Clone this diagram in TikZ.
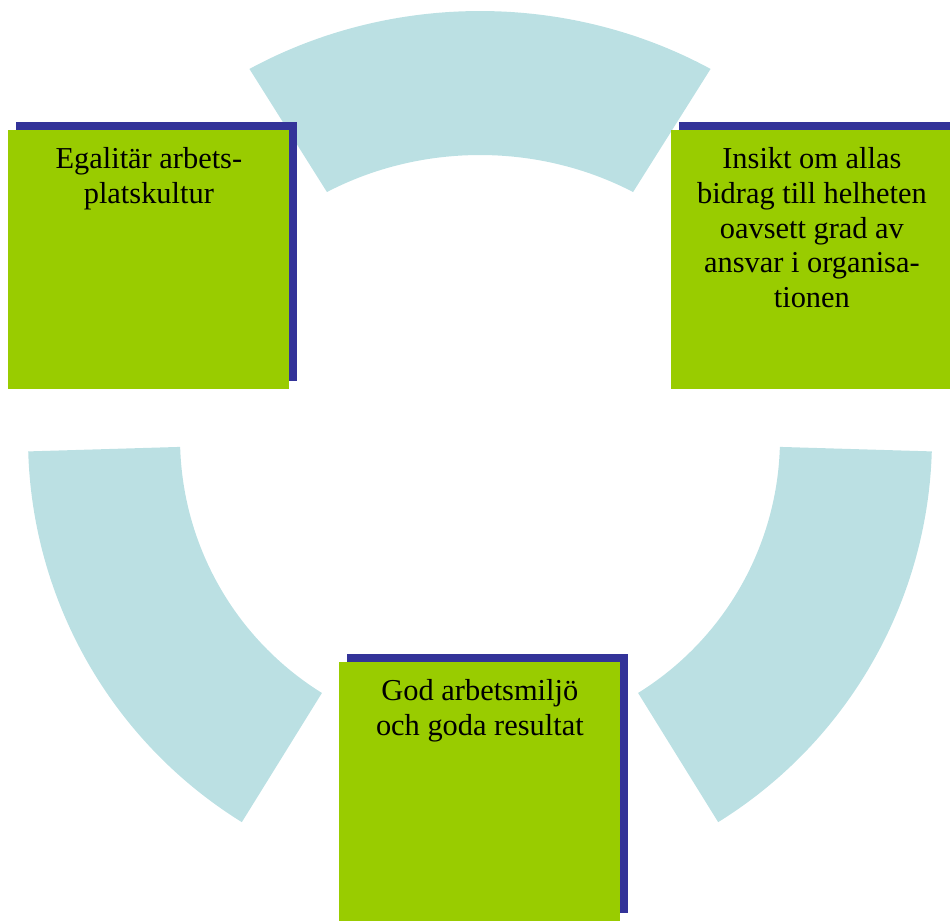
\documentclass[tikz,border=0pt]{standalone}
\usepackage{fontspec}
\setmainfont{Liberation Serif}
\usetikzlibrary{positioning,shadows}
\definecolor{ringblue}{HTML}{BBE0E3}
\definecolor{boxgreen}{HTML}{99CC00}
\definecolor{shadeblue}{HTML}{333399}

\begin{document}
\begin{tikzpicture}[
    box/.style={rectangle, fill=boxgreen, inner sep=0pt, anchor=north west,
                minimum width=5.62cm, minimum height=5.18cm,
                general shadow={fill=shadeblue, shadow xshift=0.16cm, shadow yshift=0.16cm}},
    txt/.style={align=center, inner sep=0pt, font=\fontsize{17.3}{19.8}\selectfont},
    seg/.style={fill=ringblue}
]
\path[use as bounding box, clip] (0,0) rectangle (19,-18.44);
\coordinate (c) at (9.6,-8.76);
\coordinate (ct) at (9.6,-8.7);

\fill[seg] ([shift={(ct)}]59.7:9.14 and 8.48) arc[start angle=59.7, end angle=120.3, x radius=9.14, y radius=8.48]
    -- ([shift={(ct)}]119.8:6.16 and 5.6) arc[start angle=119.8, end angle=60.2, x radius=6.16, y radius=5.6] -- cycle;
\fill[seg] ([shift={(c)}]181.7:9.04) arc[start angle=181.7, end angle=238.2, radius=9.04]
    -- ([shift={(c)}]238.2:6) arc[start angle=238.2, end angle=181.7, radius=6] -- cycle;
\fill[seg] ([shift={(c)}]301.8:9.04) arc[start angle=301.8, end angle=358.3, radius=9.04]
    -- ([shift={(c)}]358.3:6) arc[start angle=358.3, end angle=301.8, radius=6] -- cycle;

\node[box] (egal) at (0.16,-2.6) {};
\node[box] (insikt) at (13.42,-2.6) {};
\node[box] (god) at (6.78,-13.24) {};

\node[txt, below=0.34cm of egal.north] (egaltxt) {Egalitär arbets-\\platskultur};
\node[txt, below=0.34cm of insikt.north] (insikttxt) {Insikt om allas\\bidrag till helheten\\oavsett grad av\\ansvar i organisa-\\tionen};
\node[txt, below=0.34cm of god.north] (godtxt) {God arbetsmiljö\\och goda resultat};
\end{tikzpicture}
\end{document}
